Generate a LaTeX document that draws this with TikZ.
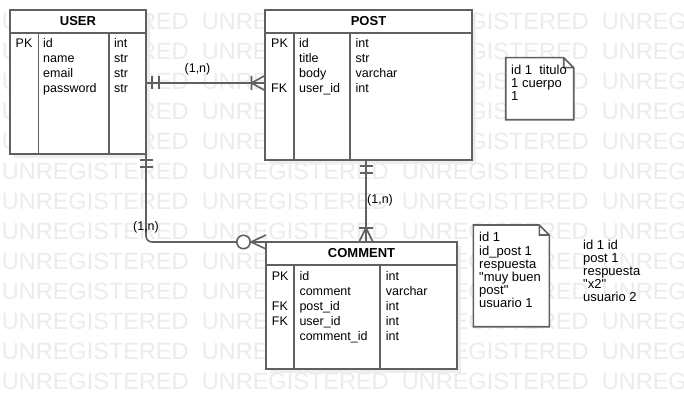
\documentclass[tikz,border=0pt]{standalone}
\usepackage{fontspec}
\newfontfamily\erfont{Liberation Sans}
\usepackage{tikz}
\usetikzlibrary{positioning,shadows}
\definecolor{ln}{RGB}{96,96,96}
\definecolor{wm}{RGB}{236,236,236}
\definecolor{shd}{RGB}{238,238,238}

\begin{document}
\begin{tikzpicture}[x=1pt, y=-1pt,
        ent/.style={draw=ln, fill=white, line width=1.6pt, inner sep=0pt, outer sep=0pt, anchor=north west,
            drop shadow={shadow xshift=4pt, shadow yshift=-4pt, fill=shd, opacity=1}},
        head/.style={ent, minimum height=23pt, font=\erfont\bfseries\fontsize{13}{13}\selectfont},
        fld/.style={inner sep=0pt, align=left, font=\erfont\fontsize{12.5}{15}\selectfont},
        col/.style={draw=ln, line width=1.6pt},
        conn/.style={draw=ln, line width=1.6pt},
        lbl/.style={inner sep=0pt, font=\erfont\fontsize{12.5}{15}\selectfont},
        note/.style={fill=white, inner sep=0pt, outer sep=0pt, anchor=north west},
        ntxt/.style={inner sep=0pt, align=left, font=\erfont\fontsize{13}{13}\selectfont},
        wmark/.style={anchor=west, inner sep=0pt, text=wm, font=\erfont\fontsize{23.5}{23.5}\selectfont}]
        \fill[white] (0,0) rectangle (684,409);
        \useasboundingbox (0,0) rectangle (684,409);

        % watermark
        \foreach \r in {0,...,12}
            \foreach \c in {0,...,3}
                \node[wmark] (wm-\r-\c) at (1.7+200*\c, 21.7+30*\r) {UNREGISTERED};

        % USER
        \node[head, minimum width=136pt] (userhead) at (10,10) {USER};
        \node[ent, minimum width=136pt, minimum height=121pt, below=0pt of userhead] (userbody) {};
        \draw[col] ([xshift=28.5pt]userbody.north west) -- ([xshift=28.5pt]userbody.south west);
        \draw[col] ([xshift=99pt]userbody.north west) -- ([xshift=99pt]userbody.south west);
        \node[fld, below right=4pt and 5.5pt of userbody.north west] (userkey) {\strut PK};
        \node[fld, below right=4pt and 33pt of userbody.north west] (userfld) {\strut id\\name\\email\\password};
        \node[fld, below right=4pt and 104pt of userbody.north west] (usertyp) {\strut int\\str\\str\\str};

        % POST
        \node[head, minimum width=207pt] (posthead) at (265,10) {POST};
        \node[ent, minimum width=207pt, minimum height=127pt, below=0pt of posthead] (postbody) {};
        \draw[col] ([xshift=29pt]postbody.north west) -- ([xshift=29pt]postbody.south west);
        \draw[col] ([xshift=85pt]postbody.north west) -- ([xshift=85pt]postbody.south west);
        \node[fld, below right=4pt and 6pt of postbody.north west] (postkey) {\strut PK\\\strut\\\strut\\FK};
        \node[fld, below right=4pt and 34pt of postbody.north west] (postfld) {\strut id\\title\\body\\user\_id};
        \node[fld, below right=4pt and 90.5pt of postbody.north west] (posttyp) {\strut int\\str\\varchar\\int};

        % COMMENT
        \node[head, minimum width=191pt] (commenthead) at (266,242) {COMMENT};
        \node[ent, minimum width=191pt, minimum height=104pt, below=0pt of commenthead] (commentbody) {};
        \draw[col] ([xshift=28pt]commentbody.north west) -- ([xshift=28pt]commentbody.south west);
        \draw[col] ([xshift=114pt]commentbody.north west) -- ([xshift=114pt]commentbody.south west);
        \node[fld, below right=4.7pt and 5.7pt of commentbody.north west] (commentkey) {\strut PK\\\strut\\FK\\FK};
        \node[fld, below right=4.7pt and 33.3pt of commentbody.north west] (commentfld) {\strut id\\comment\\post\_id\\user\_id\\comment\_id};
        \node[fld, below right=4.7pt and 119.7pt of commentbody.north west] (commenttyp) {\strut int\\varchar\\int\\int\\int};

        % user - post
        \coordinate (up1) at ([yshift=-50pt]userbody.north east);
        \coordinate (up2) at ([yshift=-50pt]postbody.north west);
        \draw[conn] (up1) -- (up2);
        \draw[conn] ([xshift=6pt]up1) ++(0,-6.5) -- ++(0,13)
            ([xshift=13pt]up1) ++(0,-6.5) -- ++(0,13);
        \draw[conn] ([xshift=-13.5pt]up2) -- ++(13.5,-7.5)
            ([xshift=-13.5pt]up2) -- ++(13.5,7.5)
            ([xshift=-13.5pt]up2) ++(0,-7) -- ++(0,14);
        \node[lbl] (uplbl) at (197.5,69) {(1,n)};

        % user - comment
        \draw[conn, rounded corners=6pt] (userbody.south east) |- (commenthead.north west);
        \draw[conn] ([yshift=-6pt]userbody.south east) ++(-6.5,0) -- ++(13,0)
            ([yshift=-13pt]userbody.south east) ++(-6.5,0) -- ++(13,0);
        \draw[conn, fill=white] ([xshift=-22.5pt]commenthead.north west) circle[radius=6.7];
        \draw[conn] ([xshift=-15pt]commenthead.north west) -- ++(15,-7)
            ([xshift=-15pt]commenthead.north west) -- ++(15,7);
        \node[lbl] (uclbl) at (146,227) {(1,n)};

        % post - comment
        \coordinate (pc1) at ([xshift=101pt]postbody.south west);
        \coordinate (pc2) at (pc1 |- commenthead.north);
        \draw[conn] (pc1) -- (pc2);
        \draw[conn] ([yshift=-6pt]pc1) ++(-6.5,0) -- ++(13,0)
            ([yshift=-13pt]pc1) ++(-6.5,0) -- ++(13,0);
        \draw[conn] ([yshift=14pt]pc2) -- ++(-7,14)
            ([yshift=14pt]pc2) -- ++(7,14)
            ([yshift=14pt]pc2) ++(-7,0) -- ++(14,0);
        \node[lbl, anchor=west] (pclbl) at (367,200) {(1,n)};

        % notes
        \node[note, minimum width=68pt, minimum height=62pt] (note1) at (505.7,57.7) {};
        \draw[conn] (note1.north west) -- ([xshift=-10pt]note1.north east) -- ([yshift=-10pt]note1.north east)
            -- (note1.south east) -- (note1.south west) -- cycle
            ([xshift=-10pt]note1.north east) |- ([yshift=-10pt]note1.north east);
        \node[ntxt, below right=6.9pt and 5.3pt of note1.north west] (note1txt) {\strut id 1\ \ titulo\\1 cuerpo\\1};

        \node[note, minimum width=76pt, minimum height=101.7pt] (note2) at (473.3,225) {};
        \draw[conn] (note2.north west) -- ([xshift=-10pt]note2.north east) -- ([yshift=-10pt]note2.north east)
            -- (note2.south east) -- (note2.south west) -- cycle
            ([xshift=-10pt]note2.north east) |- ([yshift=-10pt]note2.north east);
        \node[ntxt, below right=6.6pt and 5.7pt of note2.north west] (note2txt) {\strut id 1\\id\_post 1\\respuesta\\"muy buen\\post"\\usuario 1};

        \node[ntxt, anchor=north west] (freetxt) at (583,239.9) {\strut id 1 id\\post 1\\respuesta\\"x2"\\usuario 2};
    \end{tikzpicture}
\end{document}
